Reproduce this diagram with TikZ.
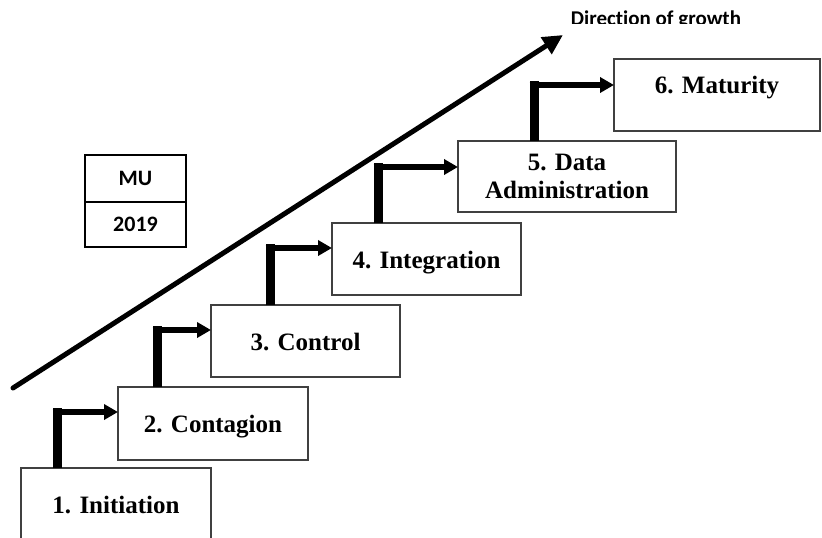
\documentclass[tikz,border=0pt]{standalone}
\usepackage{fontspec}
\setmainfont{Liberation Serif}
\newfontfamily\calfnt[Ligatures=NoCommon]{Carlito}
\usetikzlibrary{arrows.meta,calc}

\tikzset{
  stagebox/.style={draw=black!75, line width=1.3pt, inner sep=0pt, outer sep=0pt,
    anchor=north west, align=center,
    font=\fontsize{25}{28}\selectfont\bfseries},
  stage/.style={stagebox, text height=18pt, text depth=0pt},
  tagcell/.style={draw=black, line width=1.4pt, inner sep=0pt, outer sep=0pt,
    anchor=north west, minimum width=101pt, font=\calfnt\fontsize{22}{26}\selectfont\bfseries},
  stem/.style={line width=9pt, line cap=butt, black},
  flow/.style={line width=6pt, black, -{Triangle[length=14pt,width=15pt]}},
  growth/.style={line width=5pt, line cap=round, black, -{Triangle[length=20pt,width=19pt]}}
}

\begin{document}
\begin{tikzpicture}[x=1pt,y=-1pt]
\useasboundingbox (0,0) rectangle (822,538);
\clip (0,0) rectangle (822,538);

% growth direction arrow and its caption
\coordinate (gs) at (13,388);
\coordinate (ge) at (563,35);
\draw[growth] (gs) -- (ge);
\begin{scope}
  \clip (480,0) rectangle (822,23);
  \node[anchor=base, inner sep=0pt, font=\calfnt\fontsize{21}{24}\selectfont\bfseries] (dir) at (656,25.5) {Direction of growth};
\end{scope}

% MU / 2019 tag
\node[tagcell, minimum height=47pt] (mu) at (85,155) {MU};
\node[tagcell, minimum height=45pt] (yr) at (85,202) {2019};

% stages
\node[stage, minimum width=190pt, minimum height=76pt, text depth=4pt] (b1) at (21,468) {1. Initiation};
\node[stage, minimum width=190pt, minimum height=73pt] (b2) at (118,387) {2. Contagion};
\node[stage, minimum width=189pt, minimum height=72pt] (b3) at (211,305) {3. Control};
\node[stage, minimum width=189pt, minimum height=72pt] (b4) at (332,223) {4. Integration};
\node[stagebox, minimum width=218pt, minimum height=71pt] (b5) at (458,141) {5. Data\\Administration};
\node[stage, minimum width=206pt, minimum height=72pt, text depth=22pt] (b6) at (614,59) {6. Maturity};

% step connectors
\foreach \a/\b/\vx/\hy in {b1/b2/57/412, b2/b3/157/330, b3/b4/270/248, b4/b5/378/167, b5/b6/534/85}{
  \draw[stem] (\vx,0 |- \a.north) -- (\vx,\hy-4.5);
  \draw[flow] (\vx-4.5,\hy) -- (\b.west |- 0,\hy);
}
\end{tikzpicture}
\end{document}
